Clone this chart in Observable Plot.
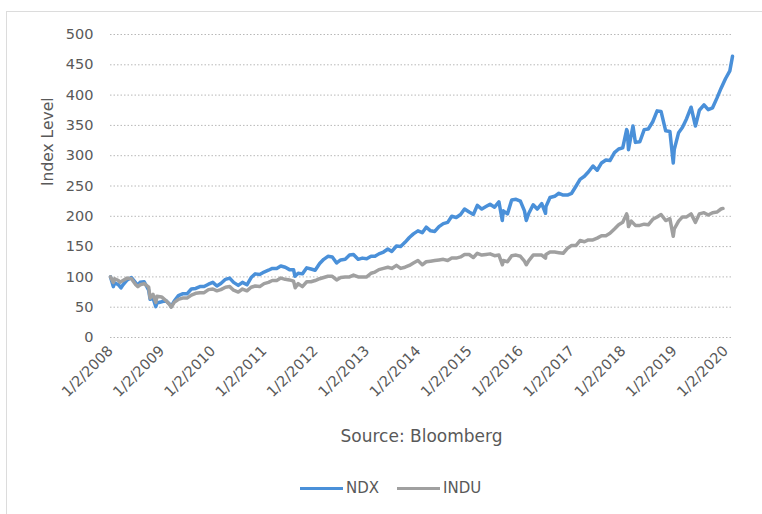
<!DOCTYPE html>
<html>
<head>
<meta charset="utf-8">
<script src="https://cdn.jsdelivr.net/npm/d3@7"></script>
<script src="https://cdn.jsdelivr.net/npm/@observablehq/plot@0.6"></script>
<style>
  html, body { margin: 0; padding: 0; background: #fff; }
  #wrap { position: relative; width: 762px; height: 514px; overflow: hidden; font-family: "DejaVu Sans", sans-serif; color: #595959; }
  #border { position: absolute; left: 6px; top: 11px; width: 760px; height: 510px; border-top: 1px solid #dcdcdc; border-left: 1px solid #dcdcdc; }
  #chart { position: absolute; left: 0; top: 0; }
  .leg { position: absolute; top: 478px; font-size: 15px; line-height: 20px; }
  .swatch { position: absolute; top: 487px; height: 3px; }
</style>
</head>
<body>
<div id="wrap">
  <div id="border"></div>
  <div id="chart"></div>
  <div class="swatch" style="left:300px;width:43px;background:#4a90d9"></div>
  <div class="leg" style="left:346px">NDX</div>
  <div class="swatch" style="left:397px;width:43px;background:#a0a0a0"></div>
  <div class="leg" style="left:443px">INDU</div>
</div>
<script>
const yTicks = [0, 50, 100, 150, 200, 250, 300, 350, 400, 450, 500];
const xTickLabels = ["1/2/2008","1/2/2009","1/2/2010","1/2/2011","1/2/2012","1/2/2013","1/2/2014","1/2/2015","1/2/2016","1/2/2017","1/2/2018","1/2/2019","1/2/2020"];

const ndxDates = [
"2008-01-02","2008-01-22","2008-01-31","2008-02-28","2008-03-17","2008-03-31","2008-04-30","2008-05-30","2008-06-30","2008-07-15","2008-07-31","2008-08-29","2008-09-30","2008-10-10","2008-10-31","2008-11-20","2008-11-28","2008-12-31",
"2009-01-30","2009-02-27","2009-03-09","2009-03-31","2009-04-30","2009-05-29","2009-06-30","2009-07-31","2009-08-31","2009-09-30","2009-10-30","2009-11-30","2009-12-31",
"2010-01-29","2010-02-26","2010-03-31","2010-04-30","2010-05-28","2010-06-30","2010-07-30","2010-08-31","2010-09-30","2010-10-29","2010-11-30","2010-12-31",
"2011-01-31","2011-02-28","2011-03-31","2011-04-29","2011-05-31","2011-06-30","2011-07-29","2011-08-08","2011-08-31","2011-09-30","2011-10-31","2011-11-30","2011-12-30",
"2012-01-31","2012-02-29","2012-03-30","2012-04-30","2012-05-31","2012-06-29","2012-07-31","2012-08-31","2012-09-28","2012-10-31","2012-11-30","2012-12-31",
"2013-01-31","2013-02-28","2013-03-28","2013-04-30","2013-05-31","2013-06-28","2013-07-31","2013-08-30","2013-09-30","2013-10-31","2013-11-29","2013-12-31",
"2014-01-31","2014-02-28","2014-03-31","2014-04-30","2014-05-30","2014-06-30","2014-07-31","2014-08-29","2014-09-30","2014-10-31","2014-11-28","2014-12-31",
"2015-01-30","2015-02-27","2015-03-31","2015-04-30","2015-05-29","2015-06-30","2015-07-31","2015-08-24","2015-08-31","2015-09-30","2015-10-30","2015-11-30","2015-12-31",
"2016-01-29","2016-02-11","2016-02-29","2016-03-31","2016-04-29","2016-05-31","2016-06-27","2016-06-30","2016-07-29","2016-08-31","2016-09-30","2016-10-31","2016-11-30","2016-12-30",
"2017-01-31","2017-02-28","2017-03-31","2017-04-28","2017-05-31","2017-06-30","2017-07-31","2017-08-31","2017-09-29","2017-10-31","2017-11-30","2017-12-29",
"2018-01-26","2018-01-31","2018-02-08","2018-02-28","2018-03-12","2018-03-29","2018-04-30","2018-05-31","2018-06-29","2018-07-31","2018-08-31","2018-09-28","2018-10-31","2018-11-30","2018-12-24","2018-12-31",
"2019-01-31","2019-02-28","2019-03-29","2019-04-30","2019-05-31","2019-06-28","2019-07-31","2019-08-30","2019-09-30","2019-10-31","2019-11-29","2019-12-31",
"2020-01-31","2020-02-19"
];
const ndxValues = [
100,84,90,87,82,87,95,99,90,86,91,92,78,63,65,51,57,59,
61,55,51,60,69,72,72,80,81,84,84,88,91,
85,89,96,98,91,86,91,87,99,105,104,108,
111,114,114,118,116,112,112,101,106,105,115,113,111,
122,129,134,133,123,128,129,136,137,129,131,130,
134,134,138,141,146,142,151,150,157,165,171,176,
173,182,176,175,183,188,190,200,198,203,212,207,
203,218,212,216,220,215,224,193,209,204,227,228,225,
209,193,205,219,212,221,205,216,231,233,238,235,235,238,
250,261,266,273,283,276,288,293,292,305,311,313,
343,340,310,335,349,322,323,343,344,356,374,373,341,340,288,310,
338,347,361,380,349,375,384,376,379,395,411,427,
440,464
];

const induDates = [
"2008-01-02","2008-01-22","2008-01-31","2008-02-28","2008-03-10","2008-03-31","2008-04-30","2008-05-30","2008-06-30","2008-07-15","2008-07-31","2008-08-29","2008-09-30","2008-10-10","2008-10-31","2008-11-20","2008-11-28","2008-12-31",
"2009-01-30","2009-02-27","2009-03-09","2009-03-31","2009-04-30","2009-05-29","2009-06-30","2009-07-31","2009-08-31","2009-09-30","2009-10-30","2009-11-30","2009-12-31",
"2010-01-29","2010-02-26","2010-03-31","2010-04-30","2010-05-28","2010-06-30","2010-07-30","2010-08-31","2010-09-30","2010-10-29","2010-11-30","2010-12-31",
"2011-01-31","2011-02-28","2011-03-31","2011-04-29","2011-05-31","2011-06-30","2011-07-29","2011-08-10","2011-08-31","2011-09-30","2011-10-31","2011-11-30","2011-12-30",
"2012-01-31","2012-02-29","2012-03-30","2012-04-30","2012-05-31","2012-06-29","2012-07-31","2012-08-31","2012-09-28","2012-10-31","2012-11-30","2012-12-31",
"2013-01-31","2013-02-28","2013-03-28","2013-04-30","2013-05-31","2013-06-28","2013-07-31","2013-08-30","2013-09-30","2013-10-31","2013-11-29","2013-12-31",
"2014-01-31","2014-02-28","2014-03-31","2014-04-30","2014-05-30","2014-06-30","2014-07-31","2014-08-29","2014-09-30","2014-10-31","2014-11-28","2014-12-31",
"2015-01-30","2015-02-27","2015-03-31","2015-04-30","2015-05-29","2015-06-30","2015-07-31","2015-08-25","2015-08-31","2015-09-30","2015-10-30","2015-11-30","2015-12-31",
"2016-01-29","2016-02-11","2016-02-29","2016-03-31","2016-04-29","2016-05-31","2016-06-27","2016-06-30","2016-07-29","2016-08-31","2016-09-30","2016-10-31","2016-11-30","2016-12-30",
"2017-01-31","2017-02-28","2017-03-31","2017-04-28","2017-05-31","2017-06-30","2017-07-31","2017-08-31","2017-09-29","2017-10-31","2017-11-30","2017-12-29",
"2018-01-26","2018-01-31","2018-02-08","2018-02-28","2018-03-29","2018-04-30","2018-05-31","2018-06-29","2018-07-31","2018-08-31","2018-09-28","2018-10-31","2018-11-30","2018-12-24","2018-12-31",
"2019-01-31","2019-02-28","2019-03-29","2019-04-30","2019-05-31","2019-06-28","2019-07-31","2019-08-30","2019-09-30","2019-10-31","2019-11-29","2019-12-13"
];
const induValues = [
100,91,97,94,91,94,98,97,87,84,87,89,83,65,71,58,68,67,
61,54,50,58,63,65,65,70,73,74,74,79,80,
77,79,83,84,78,75,80,77,83,85,84,89,
91,94,94,98,96,95,93,82,89,84,92,92,94,
97,99,101,101,95,99,100,100,103,100,100,100,
106,108,112,114,116,114,119,114,116,119,123,127,
120,125,126,127,128,129,127,131,131,133,137,137,
132,139,136,137,138,135,136,120,127,125,135,136,134,
126,120,127,136,136,136,131,137,141,141,140,139,147,152,
152,160,158,161,161,164,168,168,172,179,186,190,
204,200,183,192,185,185,187,186,195,199,203,193,196,167,179,
192,199,199,204,190,204,206,202,206,207,212,213
];

const parseISO = d3.utcParse("%Y-%m-%d");
const parseTick = d3.utcParse("%m/%d/%Y");
const ndx = ndxDates.map((d, i) => ({date: parseISO(d), value: ndxValues[i]}));
const indu = induDates.map((d, i) => ({date: parseISO(d), value: induValues[i]}));
const xTicks = xTickLabels.map(parseTick);

const chart = Plot.plot({
  width: 762,
  height: 460,
  marginLeft: 110,
  marginRight: 30,
  marginTop: 34,
  marginBottom: 123,
  style: {fontFamily: "DejaVu Sans, sans-serif", fontSize: "14.5px", color: "#595959", background: "transparent", overflow: "visible"},
  x: {type: "utc", domain: [parseISO("2008-01-02"), parseISO("2020-02-19")]},
  y: {domain: [0, 500]},
  marks: [
    Plot.gridY(yTicks, {stroke: "#b8b8b8", strokeOpacity: 1, strokeDasharray: "1.5,2"}),
    Plot.axisY(yTicks, {tickSize: 0, tickPadding: 17, label: null, fill: "#595959"}),
    Plot.axisX(xTicks, {tickSize: 0, tickPadding: 11, tickRotate: -45, label: null, fill: "#595959", tickFormat: d3.utcFormat("%-m/%-d/%Y")}),
    Plot.line(ndx, {x: "date", y: "value", stroke: "#4a90d9", strokeWidth: 3.5, strokeLinejoin: "round"}),
    Plot.line(indu, {x: "date", y: "value", stroke: "#a0a0a0", strokeWidth: 3.5, strokeLinejoin: "round"}),
    Plot.text(["Index Level"], {frameAnchor: "left", dx: -62, rotate: -90, fontSize: 15.5, fill: "#595959"}),
    Plot.text(["Source: Bloomberg"], {frameAnchor: "bottom", dy: 104, fontSize: 17, fill: "#595959"})
  ]
});
document.getElementById("chart").appendChild(chart);
</script>
</body>
</html>
